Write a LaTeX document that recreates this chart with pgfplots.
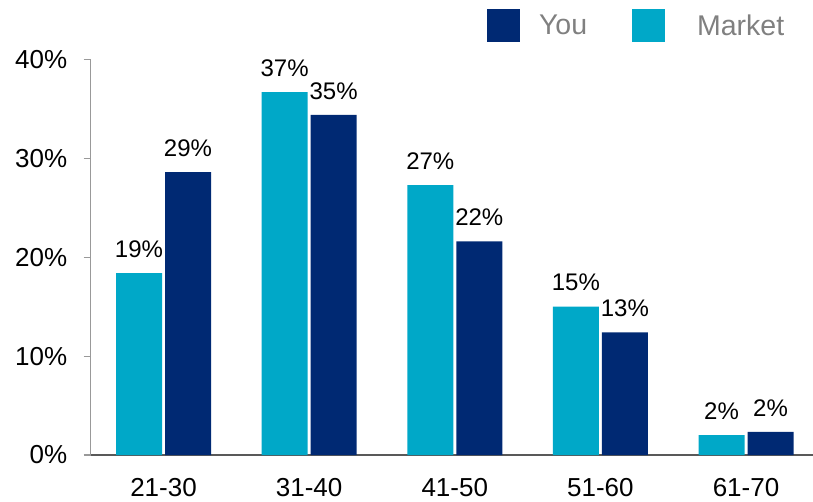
\documentclass[border=0pt]{standalone}
\usepackage{fontspec}
\setmainfont{Liberation Sans}
\usepackage{pgfplots}
\pgfplotsset{compat=1.18}
\definecolor{navy}{RGB}{0,41,115}
\definecolor{cyanbar}{RGB}{0,168,200}
\definecolor{legendgray}{RGB}{128,128,128}
\begin{document}
\begin{tikzpicture}
\begin{axis}[
 scale only axis, width=722.3pt, height=395.6pt,
 xmin=-0.5, xmax=4.46, ymin=0, ymax=40,
 axis x line=bottom, axis y line=left,
 x axis line style={-, draw=black!65, line width=2pt},
 y axis line style={-, draw=black!40, line width=1.2pt},
 ybar=3pt, bar width=46pt,
 xtick={0,1,2,3,4}, xticklabels={21-30,31-40,41-50,51-60,61-70},
 xtick style={draw=none},
 ytick={0,10,20,30,40}, yticklabels={0\%,10\%,20\%,30\%,40\%},
 ytick style={draw=black!40, line width=1.2pt},
 tick align=outside, major tick length=7pt,
 ticklabel style={font=\fontsize{26}{30}\selectfont},
 yticklabel style={xshift=-13pt},
 xticklabel style={yshift=-13pt},
 point meta=explicit symbolic,
 nodes near coords={\pgfplotspointmeta\%},
 every node near coord/.append style={font=\fontsize{24}{28}\selectfont, anchor=center, yshift=24pt, black},
 reverse legend, legend columns=2,
 legend image code/.code={\fill[#1] (0pt,-16.5pt) rectangle (33pt,16.5pt);},
 legend style={at={(0.5487,1.0857)}, anchor=west, draw=none, fill=none,
   inner sep=0pt, outer sep=0pt, column sep=0pt,
   font=\fontsize{28.5}{32}\selectfont, text=legendgray,
   nodes={inner sep=0pt},
   /tikz/every odd column/.append style={column sep=19pt},
   /tikz/every even column/.append style={column sep=45pt}},
]
\addplot[fill=cyanbar, draw=none] coordinates {(0,18.4)[19] (1,36.7)[37] (2,27.3)[27] (3,15.0)[15] (4,2.0)[2]};
\addlegendentry{\hspace{13pt}Market}
\addplot[fill=navy, draw=none] coordinates {(0,28.6)[29] (1,34.4)[35] (2,21.6)[22] (3,12.4)[13] (4,2.35)[2]};
\addlegendentry{You}
\end{axis}
\pgfresetboundingbox
\path (-90.7pt,-46pt) rectangle (722.3pt,455pt);
\end{tikzpicture}
\end{document}
